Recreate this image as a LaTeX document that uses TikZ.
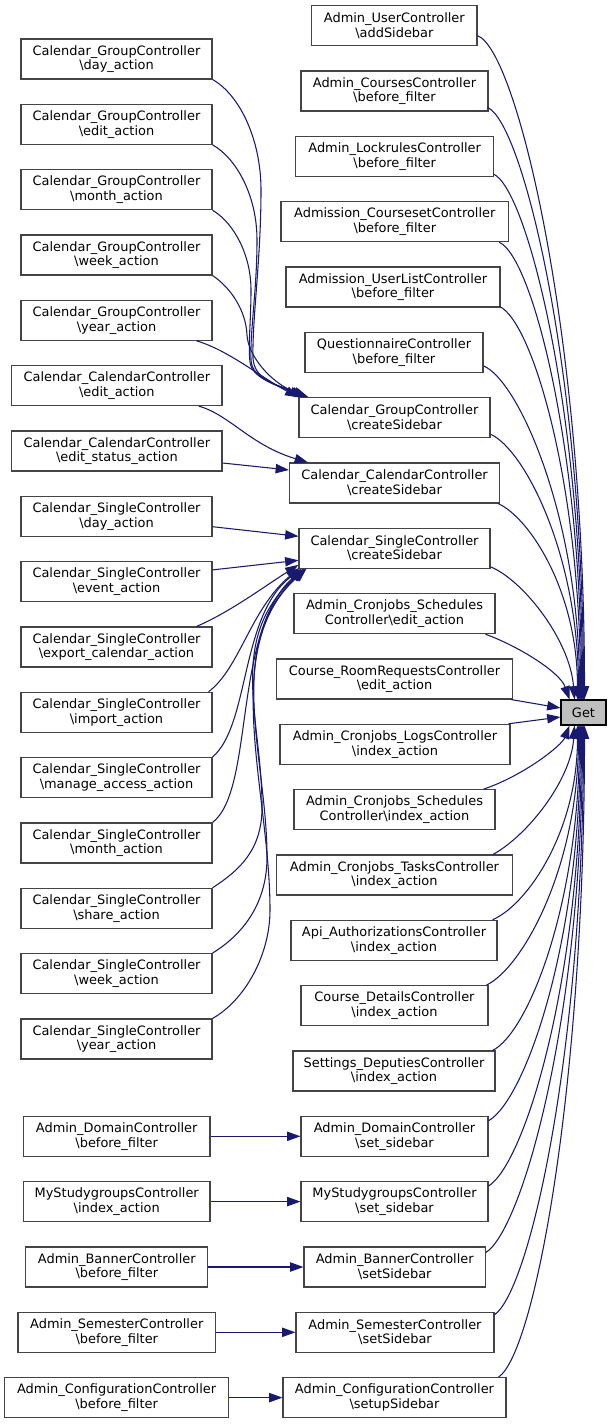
\documentclass[tikz,border=0pt]{standalone}
\usepackage{fontspec}
\setmainfont{DejaVu Sans}
\usetikzlibrary{arrows.meta}
\definecolor{edgec}{HTML}{191970}
\definecolor{boxc}{HTML}{444444}
\definecolor{getfill}{HTML}{BFBFBF}
\tikzset{
  box/.style={draw=boxc, fill=white, line width=0.8pt, inner sep=0pt, align=center, font=\fontsize{9.7}{11}\selectfont},
  getbox/.style={box, draw=black, fill=getfill},
  conn/.style={draw=edgec, line width=0.8pt, -{Triangle[length=10pt,width=7pt]}},
}
\newcommand\nd[5]{\node[box, minimum width={(#4-#2)*0.75pt}, minimum height=30pt] (#1) at ({(#2+#4)/2},{#3+20}) {#5};}
\newcommand\BSL{\textbackslash}
\begin{document}
\begin{tikzpicture}[x=0.75pt,y=-0.75pt]
\useasboundingbox (0,0) rectangle (611,1424);
% middle column
\nd{m1}{311.7}{5.7}{477}{Admin\_UserController\\\BSL addSidebar}
\nd{m2}{301}{71.0}{488}{Admin\_CoursesController\\\BSL before\_filter}
\nd{m3}{295.7}{136.4}{493.7}{Admin\_LockrulesController\\\BSL before\_filter}
\nd{m4}{281}{201.7}{508.6}{Admission\_CoursesetController\\\BSL before\_filter}
\nd{m5}{286}{267.0}{500}{Admission\_UserListController\\\BSL before\_filter}
\nd{m6}{305}{332.4}{483}{QuestionnaireController\\\BSL before\_filter}
\nd{m7}{299}{397.7}{490}{Calendar\_GroupController\\\BSL createSidebar}
\nd{m8}{289.5}{463.0}{499.6}{Calendar\_CalendarController\\\BSL createSidebar}
\nd{m9}{299}{528.3}{490}{Calendar\_SingleController\\\BSL createSidebar}
\nd{m10}{294}{593.7}{495}{Admin\_Cronjobs\_Schedules\\Controller\BSL edit\_action}
\nd{m11}{276.5}{659.0}{512.5}{Course\_RoomRequestsController\\\BSL edit\_action}
\nd{m12}{280}{724.3}{510}{Admin\_Cronjobs\_LogsController\\\BSL index\_action}
\nd{m13}{294}{789.7}{495}{Admin\_Cronjobs\_Schedules\\Controller\BSL index\_action}
\nd{m14}{276.5}{855.0}{512.5}{Admin\_Cronjobs\_TasksController\\\BSL index\_action}
\nd{m15}{291}{920.3}{497}{Api\_AuthorizationsController\\\BSL index\_action}
\nd{m16}{301}{985.6}{488}{Course\_DetailsController\\\BSL index\_action}
\nd{m17}{293}{1051.0}{495}{Settings\_DeputiesController\\\BSL index\_action}
\nd{m18}{301}{1116.3}{488}{Admin\_DomainController\\\BSL set\_sidebar}
\nd{m19}{301}{1181.6}{488}{MyStudygroupsController\\\BSL set\_sidebar}
\nd{m20}{304}{1247.0}{485.5}{Admin\_BannerController\\\BSL setSidebar}
\nd{m21}{296}{1312.3}{494}{Admin\_SemesterController\\\BSL setSidebar}
\nd{m22}{283}{1377.6}{506}{Admin\_ConfigurationController\\\BSL setupSidebar}
% left column
\nd{g1}{21}{39.0}{212}{Calendar\_GroupController\\\BSL day\_action}
\nd{g2}{21}{104.3}{212}{Calendar\_GroupController\\\BSL edit\_action}
\nd{g3}{21}{169.7}{212}{Calendar\_GroupController\\\BSL month\_action}
\nd{g4}{21}{235.0}{212}{Calendar\_GroupController\\\BSL week\_action}
\nd{g5}{21}{300.3}{212}{Calendar\_GroupController\\\BSL year\_action}
\nd{ca1}{11.7}{365.6}{222}{Calendar\_CalendarController\\\BSL edit\_action}
\nd{ca2}{11.7}{431.0}{222}{Calendar\_CalendarController\\\BSL edit\_status\_action}
\nd{s1}{21}{496.3}{212}{Calendar\_SingleController\\\BSL day\_action}
\nd{s2}{21}{561.6}{212}{Calendar\_SingleController\\\BSL event\_action}
\nd{s3}{21}{627.0}{212}{Calendar\_SingleController\\\BSL export\_calendar\_action}
\nd{s4}{21}{692.3}{212}{Calendar\_SingleController\\\BSL import\_action}
\nd{s5}{21}{757.6}{212}{Calendar\_SingleController\\\BSL manage\_access\_action}
\nd{s6}{21}{823.0}{212}{Calendar\_SingleController\\\BSL month\_action}
\nd{s7}{21}{888.3}{212}{Calendar\_SingleController\\\BSL share\_action}
\nd{s8}{21}{953.6}{212}{Calendar\_SingleController\\\BSL week\_action}
\nd{s9}{21}{1019.0}{212}{Calendar\_SingleController\\\BSL year\_action}
\nd{b1}{23.4}{1116.3}{210}{Admin\_DomainController\\\BSL before\_filter}
\nd{b2}{23.4}{1181.6}{210}{MyStudygroupsController\\\BSL index\_action}
\nd{b3}{25.8}{1247.0}{207.8}{Admin\_BannerController\\\BSL before\_filter}
\nd{b4}{18}{1312.3}{215.6}{Admin\_SemesterController\\\BSL before\_filter}
\nd{b5}{4.7}{1377.6}{228.5}{Admin\_ConfigurationController\\\BSL before\_filter}
% Get
\node[getbox, minimum width=33.75pt, minimum height=18.75pt] (get) at (583.5,712.5) {Get};
% edges to Get from above
\draw[conn] ([shift={(0,10)}]m1.east) .. controls (517,50) and (584.5,335) .. ([shift={(1,0)}]get.north);
\draw[conn] ([shift={(-1,-4)}]m2.south east) .. controls (523,122) and (583.5,374) .. ([shift={(0,0)}]get.north);
\draw[conn] ([shift={(-1,-3)}]m3.south east) .. controls (527,188) and (582.5,410) .. ([shift={(-1,0)}]get.north);
\draw[conn] ([shift={(-10,0)}]m4.south east) .. controls (532,256) and (581.5,448) .. ([shift={(-2,0)}]get.north);
\draw[conn] ([shift={(-1,-1)}]m5.south east) .. controls (532,321) and (580.5,483) .. ([shift={(-3,0)}]get.north);
\draw[conn] ([shift={(0,-7)}]m6.south east) .. controls (518,380) and (579.5,516) .. ([shift={(-4,0)}]get.north);
\draw[conn] ([shift={(0,-4)}]m7.south east) .. controls (524,449) and (578.5,554) .. ([shift={(-5,0)}]get.north);
\draw[conn] ([shift={(-2,0)}]m8.south east) .. controls (530,518) and (577.5,592) .. ([shift={(-6,0)}]get.north);
\draw[conn] ([shift={(0,-2)}]m9.south east) .. controls (523,580) and (570,640) .. ([shift={(-9,0)}]get.north);
\draw[conn] ([shift={(-10,0)}]m10.south east) .. controls (518,646) and (560,672) .. ([shift={(-14,0)}]get.north);
\draw[conn] ([shift={(-2,0)}]m11.south east) -- ([shift={(0,-4.5)}]get.west);
\draw[conn] ([shift={(-2,0)}]m12.north east) -- ([shift={(0,4.5)}]get.west);
% edges to Get from below
\draw[conn] ([shift={(-12,0)}]m13.north east) .. controls (525,775) and (562,745) .. ([shift={(-14,0)}]get.south);
\draw[conn] ([shift={(-20,0)}]m14.north east) .. controls (528,835) and (571,780) .. ([shift={(-9,0)}]get.south);
\draw[conn] ([shift={(-5,0)}]m15.north east) .. controls (527,905) and (577.5,832) .. ([shift={(-6,0)}]get.south);
\draw[conn] ([shift={(-2,0)}]m16.north east) .. controls (522,968) and (578.5,868) .. ([shift={(-5,0)}]get.south);
\draw[conn] ([shift={(-3,0)}]m17.north east) .. controls (528,1033) and (579.5,904) .. ([shift={(-4,0)}]get.south);
\draw[conn] ([shift={(0,5)}]m18.north east) .. controls (525,1100) and (580.5,943) .. ([shift={(-3,0)}]get.south);
\draw[conn] ([shift={(0,5)}]m19.north east) .. controls (525,1163) and (581.5,979) .. ([shift={(-2,0)}]get.south);
\draw[conn] ([shift={(0,6)}]m20.north east) .. controls (523,1228) and (582.5,1015) .. ([shift={(-1,0)}]get.south);
\draw[conn] ([shift={(0,3)}]m21.north east) .. controls (530,1290) and (583.5,1050) .. ([shift={(0,0)}]get.south);
\draw[conn] ([shift={(-8,0)}]m22.north east) .. controls (535,1353) and (584.5,1084) .. ([shift={(1,0)}]get.south);
% Calendar_GroupController callers
\draw[conn] (g1.south east) .. controls (240,95) and (261,140) .. (261,190) .. controls (261,260) and (252,320) .. (253,358) .. controls (254,380) and (278,385) .. ([shift={(4,0)}]m7.north west);
\draw[conn] (g2.south east) .. controls (236,158) and (257,195) .. (257,240) .. controls (257,290) and (250,330) .. (251,360) .. controls (252,380) and (280,386) .. ([shift={(6,0)}]m7.north west);
\draw[conn] (g3.south east) .. controls (234,223) and (251,255) .. (251,290) .. controls (251,320) and (248,345) .. (250,362) .. controls (252,380) and (282,386) .. ([shift={(8,0)}]m7.north west);
\draw[conn] (g4.south east) .. controls (230,287) and (246,310) .. (247,335) .. controls (248,355) and (270,383) .. ([shift={(10,0)}]m7.north west);
\draw[conn] ([shift={(80,0)}]g5.south) .. controls (228,350) and (262,378) .. (m7.north west);
% Calendar_CalendarController callers
\draw[conn] ([shift={(82,0)}]ca1.south) .. controls (230,415) and (250,445) .. ([shift={(19,0)}]m8.north west);
\draw[conn] ([shift={(0,12)}]ca2.east) -- ([shift={(0,-13)}]m8.west);
% Calendar_SingleController callers
\draw[conn] ([shift={(0,10.4)}]s1.east) -- ([shift={(0,-12)}]m9.west);
\draw[conn] ([shift={(0,-11.7)}]s2.east) -- ([shift={(0,12)}]m9.west);
\draw[conn] ([shift={(-16,0)}]s3.north east) .. controls (230,612) and (262,588) .. ([shift={(0,-4)}]m9.south west);
\draw[conn] ([shift={(-4,0)}]s4.north east) .. controls (240,668) and (250,610) .. ([shift={(1,-1)}]m9.south west);
\draw[conn] (s5.north east) .. controls (250,725) and (240,615) .. ([shift={(3,0)}]m9.south west);
\draw[conn] (s6.north east) .. controls (255,790) and (232,630) .. ([shift={(5,0)}]m9.south west);
\draw[conn] (s7.north east) .. controls (240,870) and (261,850) .. (262,810) .. controls (263,720) and (225,640) .. ([shift={(6,0)}]m9.south west);
\draw[conn] (s8.north east) .. controls (242,935) and (266,905) .. (267,860) .. controls (268,760) and (222,645) .. ([shift={(7,0)}]m9.south west);
\draw[conn] (s9.north east) .. controls (245,1000) and (270,955) .. (270,910) .. controls (270,790) and (218,648) .. ([shift={(8,0)}]m9.south west);
% bottom pairs
\draw[conn] (b1.east) -- (m18.west);
\draw[conn] (b2.east) -- (m19.west);
\draw[conn] (b3.east) -- (m20.west);
\draw[conn] (b4.east) -- (m21.west);
\draw[conn] (b5.east) -- (m22.west);
\end{tikzpicture}
\end{document}
